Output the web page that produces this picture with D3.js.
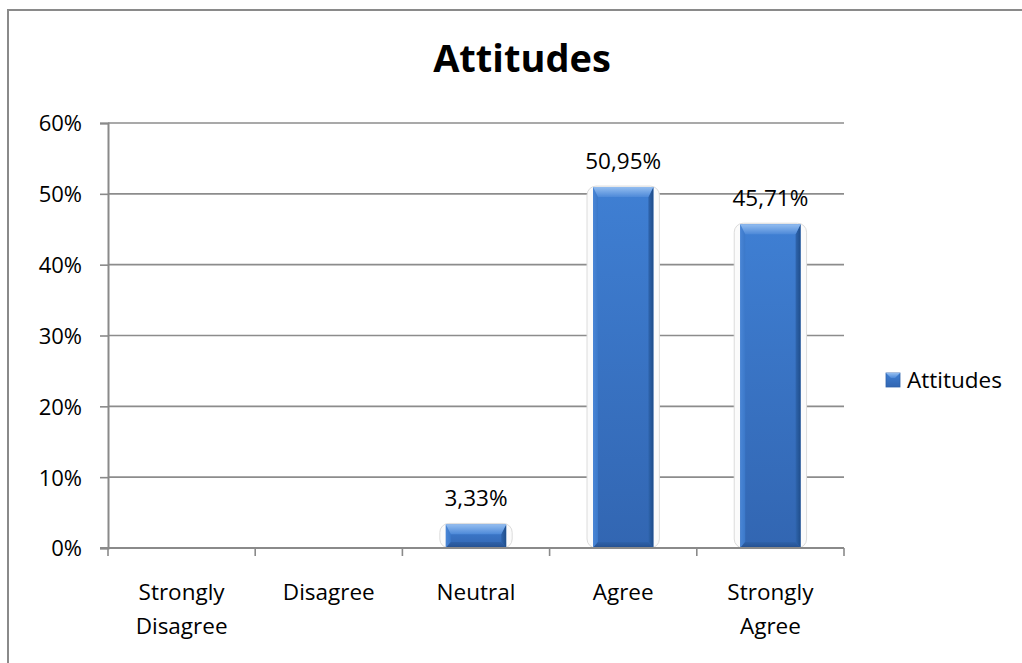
<!DOCTYPE html>
<html>
<head>
<meta charset="utf-8">
<script src="https://cdn.jsdelivr.net/npm/d3@7"></script>
<style>
  html, body { margin: 0; padding: 0; background: #fff; }
  svg { display: block; font-family: "Open Sans", "DejaVu Sans", sans-serif; }
</style>
</head>
<body>
<svg id="chart" width="1022" height="663"></svg>
<script>
// Survey responses: share of respondents per attitude level
const categories = ["Strongly Disagree", "Disagree", "Neutral", "Agree", "Strongly Agree"];
const values = [0, 0, 3.33, 50.95, 45.71];
const seriesName = "Attitudes";
const yTicks = [0, 10, 20, 30, 40, 50, 60];
const yTickLabels = ["0%", "10%", "20%", "30%", "40%", "50%", "60%"];

const svg = d3.select("#chart");
const W = 1022, H = 663;

const locale = d3.formatLocale({ decimal: ",", thousands: ".", grouping: [3], currency: ["", ""] });
const fmt = v => locale.format(".2f")(v) + "%";

// outer chart frame (extends past the visible canvas on the right and bottom)
svg.append("rect")
  .attr("x", 8).attr("y", 10)
  .attr("width", W + 40).attr("height", H + 40)
  .attr("fill", "#fff").attr("stroke", "#8a8a8a").attr("stroke-width", 2);

const plot = { left: 108, right: 844, top: 123, bottom: 548 };

const x = d3.scaleBand().domain(categories).range([plot.left, plot.right]).paddingInner(0).paddingOuter(0);
const y = d3.scaleLinear().domain([0, 60]).range([plot.bottom, plot.top]);

// gradients
const defs = svg.append("defs");
function linGrad(id, x1, y1, x2, y2, stops) {
  const g = defs.append("linearGradient").attr("id", id)
    .attr("x1", x1).attr("y1", y1).attr("x2", x2).attr("y2", y2);
  stops.forEach(([o, c]) => g.append("stop").attr("offset", o).attr("stop-color", c));
}
linGrad("body", 0, 0, 0, 1, [["0%", "#3f7fd3"], ["100%", "#3266b2"]]);
linGrad("topBevel", 0, 0, 0, 1, [["0%", "#93bdf0"], ["100%", "#4d89d8"]]);
linGrad("leftBevel", 0, 0, 1, 0, [["0%", "#4a86d6"], ["100%", "#3b78c9"]]);
linGrad("rightBevel", 0, 0, 1, 0, [["0%", "#2f65ae"], ["100%", "#1f4d8a"]]);
linGrad("bottomBevel", 0, 0, 0, 1, [["0%", "#2f62aa"], ["100%", "#244f8e"]]);

// gridlines
const grid = svg.append("g");
grid.selectAll("line").data(yTicks.filter(t => t > 0)).join("line")
  .attr("x1", plot.left).attr("x2", plot.right)
  .attr("y1", d => y(d)).attr("y2", d => y(d))
  .attr("stroke", "#8c8c8c").attr("stroke-width", 1.6);

// y axis
const yAxis = d3.axisLeft(y).tickValues(yTicks).tickFormat((d, i) => yTickLabels[i]).tickSize(8).tickPadding(18);
const gy = svg.append("g").attr("transform", `translate(${plot.left},0)`).call(yAxis);
gy.select(".domain").attr("stroke", "#8a8a8a").attr("stroke-width", 2);
gy.selectAll(".tick line").attr("stroke", "#8a8a8a").attr("stroke-width", 1.6);
gy.selectAll(".tick text")
  .attr("font-size", 22).attr("fill", "#000")
  .attr("font-family", "'Open Sans', sans-serif")
  .attr("dy", "0.36em");

// bars
const bw = x.bandwidth() * 0.41;
const bars = svg.append("g");
const data = categories.map((c, i) => ({ c, v: values[i] })).filter(d => d.v > 0);

data.forEach(d => {
  const bx = x(d.c) + (x.bandwidth() - bw) / 2;
  const by = y(d.v);
  const bh = y(0) - y(d.v);
  const g = bars.append("g");
  // soft halo around the column
  g.append("rect")
    .attr("x", bx - 6).attr("y", by - 1).attr("width", bw + 12).attr("height", bh + 1)
    .attr("rx", 9).attr("ry", 9)
    .attr("fill", "#fbfbfb").attr("stroke", "#dcdcdc").attr("stroke-width", 1);
  g.append("rect").attr("x", bx).attr("y", by).attr("width", bw).attr("height", bh).attr("fill", "url(#body)");
  const bt = Math.min(10, bh / 2.4), bs = 5, bb = Math.min(6, bh / 4);
  const poly = (pts, fill) => g.append("polygon").attr("points", pts.map(p => p.join(",")).join(" ")).attr("fill", fill);
  poly([[bx, by], [bx + bs, by + bt], [bx + bs, by + bh - bb], [bx, by + bh]], "url(#leftBevel)");
  poly([[bx + bw, by], [bx + bw - bs, by + bt], [bx + bw - bs, by + bh - bb], [bx + bw, by + bh]], "url(#rightBevel)");
  poly([[bx, by + bh], [bx + bs, by + bh - bb], [bx + bw - bs, by + bh - bb], [bx + bw, by + bh]], "url(#bottomBevel)");
  poly([[bx, by], [bx + bw, by], [bx + bw - bs, by + bt], [bx + bs, by + bt]], "url(#topBevel)");
});

// value labels
svg.append("g").selectAll("text").data(data).join("text")
  .attr("x", d => x(d.c) + x.bandwidth() / 2)
  .attr("y", d => y(d.v) - 18.5)
  .attr("text-anchor", "middle")
  .attr("font-size", 22.5).attr("fill", "#000")
  .text(d => fmt(d.v));

// x axis line and ticks at category boundaries
svg.append("line")
  .attr("x1", plot.left - 8).attr("x2", plot.right)
  .attr("y1", y(0)).attr("y2", y(0))
  .attr("stroke", "#8a8a8a").attr("stroke-width", 2);
const bounds = categories.map(c => x(c)).concat([x(categories[categories.length - 1]) + x.bandwidth()]);
svg.append("g").selectAll("line").data(bounds).join("line")
  .attr("x1", d => d).attr("x2", d => d)
  .attr("y1", y(0)).attr("y2", y(0) + 8)
  .attr("stroke", "#8a8a8a").attr("stroke-width", 1.6);

// category labels
const cl = svg.append("g").selectAll("text").data(categories).join("text")
  .attr("x", d => x(d) + x.bandwidth() / 2)
  .attr("y", 600)
  .attr("text-anchor", "middle")
  .attr("font-size", 22.5).attr("fill", "#000");
cl.each(function (d) {
  const words = d.split(" ");
  const t = d3.select(this);
  words.forEach((w, i) => {
    t.append("tspan").attr("x", x(d) + x.bandwidth() / 2).attr("dy", i === 0 ? 0 : 34).text(w);
  });
});

// title
svg.append("text")
  .attr("x", 522).attr("y", 72)
  .attr("text-anchor", "middle")
  .attr("font-size", 38).attr("font-weight", "bold").attr("fill", "#000")
  .text(seriesName);

// legend
const lg = svg.append("g").attr("transform", "translate(886,373)");
lg.append("rect").attr("width", 14).attr("height", 14).attr("fill", "url(#body)").attr("stroke", "#2f62aa").attr("stroke-width", 0.8);
lg.append("polygon").attr("points", "0,0 14,0 9,5 5,5").attr("fill", "url(#topBevel)");
lg.append("text")
  .attr("x", 21).attr("y", 15)
  .attr("font-size", 22.5).attr("fill", "#000")
  .text(seriesName);
</script>
</body>
</html>
